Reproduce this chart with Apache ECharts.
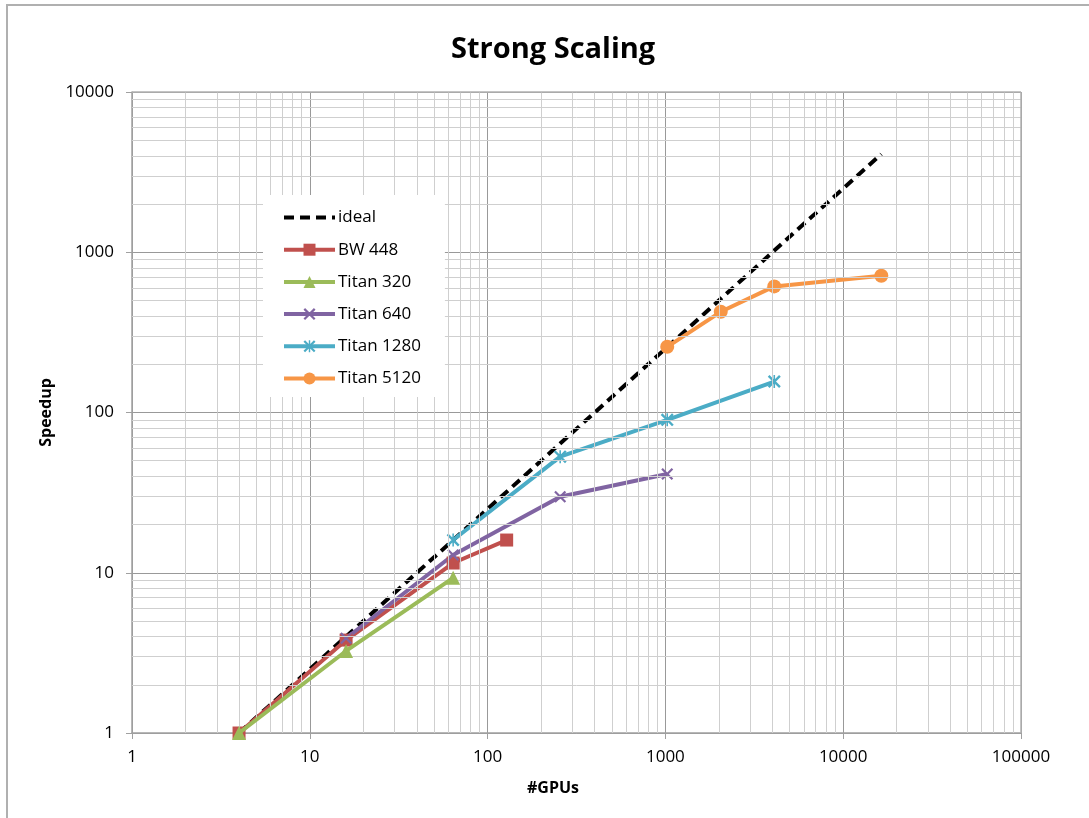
<!DOCTYPE html>
<html>
<head>
<meta charset="utf-8">
<title>Strong Scaling</title>
<script src="https://cdn.jsdelivr.net/npm/echarts@6/dist/echarts.min.js"></script>
<style>
  html, body { margin: 0; padding: 0; background: #fff; }
  #chart { width: 1089px; height: 818px; }
</style>
</head>
<body>
<div id="chart"></div>
<script>
// GPU counts and measured speedups (log-log strong scaling)
const idealGpus   = [4, 16, 64, 256, 1024, 4096, 16384];
const idealSpeed  = [1, 4, 16, 64, 256, 1024, 4096];

const bw448Gpus   = [4, 16, 64, 128];
const bw448Speed  = [1, 3.8, 11.5, 16];

const t320Gpus    = [4, 16, 64];
const t320Speed   = [1, 3.25, 9.3];

const t640Gpus    = [16, 64, 256, 1024];
const t640Speed   = [3.9, 12.9, 29.8, 41.3];

const t1280Gpus   = [64, 256, 1024, 4096];
const t1280Speed  = [16, 53, 90, 156];

const t5120Gpus   = [1024, 2048, 4096, 16384];
const t5120Speed  = [257, 425, 612, 714];

const seriesNames = ['ideal', 'BW 448', 'Titan 320', 'Titan 640', 'Titan 1280', 'Titan 5120'];

// axis ranges (decades)
const xDecades = [1, 10, 100, 1000, 10000];
const yDecades = [1, 10, 100, 1000];

const FONT = '"Open Sans", "Liberation Sans", sans-serif';

function pairs(xs, ys) { return xs.map((x, i) => [x, ys[i]]); }

// minor grid positions 2..9 within each decade
function minorLines(decades, key) {
  const out = [];
  decades.forEach(d => { for (let m = 2; m <= 9; m++) out.push({ [key]: m * d }); });
  return out;
}

const xMark = 'path://M0,1.3L1.3,0L10,8.7L8.7,10ZM8.7,0L10,1.3L1.3,10L0,8.7Z';
const starMark = 'path://M0,1.3L1.3,0L10,8.7L8.7,10ZM8.7,0L10,1.3L1.3,10L0,8.7ZM4.4,0L5.6,0L5.6,10L4.4,10Z';

function dataSeries(name, xs, ys, color, symbol, size, z) {
  return {
    name, type: 'line', data: pairs(xs, ys), z,
    symbol, symbolSize: size, showSymbol: true,
    lineStyle: { color, width: 4 },
    itemStyle: { color },
    emphasis: { disabled: true },
    animation: false
  };
}

const legendData = seriesNames.map(n =>
  n === 'ideal' ? { name: n, itemStyle: { opacity: 0 } } : { name: n });

const chart = echarts.init(document.getElementById('chart'), null, { renderer: 'canvas' });

chart.setOption({
  backgroundColor: '#ffffff',
  animation: false,
  title: {
    text: 'Strong Scaling',
    left: 446, top: 30,
    textStyle: { fontFamily: FONT, fontWeight: 'bold', fontSize: 29, color: '#000' }
  },
  graphic: [{
    type: 'rect', silent: true, z: -10,
    shape: { x: 7, y: 5, width: 1200, height: 1000 },
    style: { fill: 'none', stroke: '#b0b0b0', lineWidth: 2 }
  }],
  legend: {
    data: legendData,
    orient: 'vertical',
    left: 263, top: 195,
    z: 10,
    padding: [14, 24, 10, 19],
    backgroundColor: '#ffffff',
    itemWidth: 51, itemHeight: 15,
    itemGap: 15.2,
    lineStyle: { width: 4 },
    textStyle: { fontFamily: FONT, fontSize: 17, color: '#000', padding: [0, 0, 0, -2] },
    selectedMode: false
  },
  grid: { left: 132, top: 92, right: 68, bottom: 85, containLabel: false },
  xAxis: {
    type: 'log', logBase: 10, min: 1, max: 100000, splitNumber: 5,
    name: '#GPUs', nameLocation: 'middle', nameGap: 47,
    nameTextStyle: { fontFamily: FONT, fontWeight: 'bold', fontSize: 16, color: '#000',
                     padding: [0, 47, 0, 0] },
    axisLine: { show: true, lineStyle: { color: '#a0a0a0', width: 1.5 } },
    axisTick: { show: true, length: 6, inside: false, lineStyle: { color: '#a0a0a0' } },
    axisLabel: { fontFamily: FONT, fontSize: 17, color: '#000', margin: 16,
                 formatter: v => String(Math.round(v)) },
    splitLine: { show: true, lineStyle: { color: '#999999', width: 1 } }
  },
  yAxis: {
    type: 'log', logBase: 10, min: 1, max: 10000, splitNumber: 4,
    name: 'Speedup', nameLocation: 'middle', nameGap: 77, nameRotate: 90,
    nameTextStyle: { fontFamily: FONT, fontWeight: 'bold', fontSize: 16, color: '#000' },
    axisLine: { show: true, lineStyle: { color: '#a0a0a0', width: 1.5 } },
    axisTick: { show: true, length: 6, inside: false, lineStyle: { color: '#a0a0a0' } },
    axisLabel: { fontFamily: FONT, fontSize: 17, color: '#000', margin: 18,
                 formatter: v => String(Math.round(v)) },
    splitLine: { show: true, lineStyle: { color: '#999999', width: 1 } }
  },
  series: [
    {
      // minor grid lines at 2..9 of each decade, placed through the axis scales
      name: 'minor-grid', type: 'line', data: [], z: 1, silent: true,
      markLine: {
        silent: true, symbol: 'none', animation: false,
        label: { show: false },
        lineStyle: { color: '#cfcfcf', type: 'solid', width: 1 },
        emphasis: { disabled: true },
        data: minorLines(xDecades, 'xAxis').concat(minorLines(yDecades, 'yAxis'))
      }
    },
    {
      // top and right frame of the plot area
      name: 'frame', type: 'line', data: [], z: 1, silent: true,
      markLine: {
        silent: true, symbol: 'none', animation: false,
        label: { show: false },
        lineStyle: { color: '#b0b0b0', type: 'solid', width: 1.5 },
        emphasis: { disabled: true },
        data: [{ xAxis: 100000 }, { yAxis: 10000 }]
      }
    },
    {
      name: 'ideal', type: 'line', data: pairs(idealGpus, idealSpeed), z: 3,
      symbol: 'none', showSymbol: false,
      lineStyle: { color: '#000000', width: 4, type: [10, 6] },
      itemStyle: { color: '#000000' },
      emphasis: { disabled: true }
    },
    dataSeries('BW 448', bw448Gpus, bw448Speed, '#C0504D', 'rect', 13, 4),
    dataSeries('Titan 320', t320Gpus, t320Speed, '#9BBB59', 'triangle', 14, 5),
    dataSeries('Titan 640', t640Gpus, t640Speed, '#8064A2', xMark, 12, 4),
    dataSeries('Titan 1280', t1280Gpus, t1280Speed, '#4BACC6', starMark, 13, 4),
    dataSeries('Titan 5120', t5120Gpus, t5120Speed, '#F79646', 'circle', 14, 4)
  ]
});
</script>
</body>
</html>
